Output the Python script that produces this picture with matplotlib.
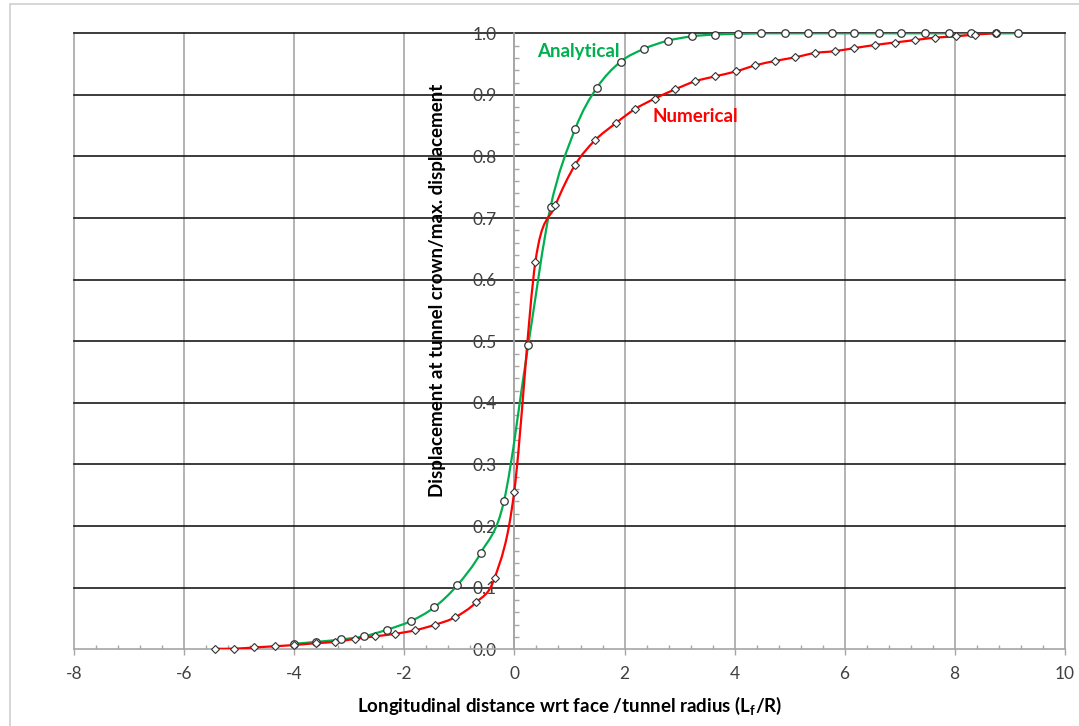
import matplotlib
matplotlib.use("Agg")
import matplotlib.pyplot as plt
import numpy as np
from matplotlib.path import Path
from matplotlib.patches import PathPatch, Rectangle
from matplotlib.ticker import MultipleLocator

plt.rcParams['font.family'] = ['Lato', 'DejaVu Sans']

# analytical solution (circles)
ana_x = [-4.0, -3.6, -3.15, -2.74, -2.31, -1.88, -1.46, -1.04, -0.61, -0.19,
         0.25, 0.655, 1.10, 1.50, 1.93, 2.36, 2.79, 3.22, 3.64, 4.06,
         4.49, 4.92, 5.34, 5.77, 6.18, 6.62, 7.03, 7.47, 7.89, 8.29, 8.75, 9.16]
ana_y = [0.009, 0.012, 0.016, 0.021, 0.032, 0.046, 0.068, 0.104, 0.157, 0.241,
         0.494, 0.718, 0.844, 0.912, 0.954, 0.975, 0.988, 0.995, 0.998, 0.999,
         1.0, 1.0, 1.0, 1.0, 1.0, 1.0, 1.0, 1.0, 1.0, 1.0, 1.0, 1.0]

# numerical results (diamonds)
num_x = [-5.44, -5.09, -4.73, -4.35, -4.0, -3.6, -3.27, -2.9, -2.54, -2.18,
         -1.8, -1.44, -1.08, -0.70, -0.36, -0.006, 0.38, 0.745, 1.10, 1.46,
         1.84, 2.19, 2.55, 2.92, 3.28, 3.64, 4.02, 4.38, 4.73, 5.10,
         5.46, 5.82, 6.18, 6.55, 6.91, 7.28, 7.65, 8.02, 8.37, 8.75]
num_y = [0.001, 0.001, 0.003, 0.005, 0.007, 0.010, 0.012, 0.017, 0.021, 0.025,
         0.031, 0.040, 0.052, 0.076, 0.116, 0.255, 0.629, 0.721, 0.786, 0.826,
         0.854, 0.877, 0.894, 0.909, 0.922, 0.930, 0.938, 0.948, 0.955, 0.961,
         0.968, 0.971, 0.976, 0.981, 0.985, 0.989, 0.993, 0.995, 0.998, 1.0]

GREEN = '#00B050'
RED = '#FF0000'


def smooth_path(xs, ys):
    # excel-like smoothed line: cubic bezier through the points
    p = np.column_stack([xs, ys])
    n = len(p)
    verts = [p[0]]
    codes = [Path.MOVETO]
    for i in range(n - 1):
        p0 = p[i - 1] if i > 0 else p[i]
        p3 = p[i + 2] if i + 2 < n else p[i + 1]
        c1 = p[i] + (p[i + 1] - p0) / 6.0
        c2 = p[i + 1] - (p3 - p[i]) / 6.0
        verts += [c1, c2, p[i + 1]]
        codes += [Path.CURVE4] * 3
    return Path(verts, codes)


fig = plt.figure(figsize=(10.79, 7.26), dpi=100)
W, H = 1079, 726
ax = fig.add_axes([74.4 / W, 1 - 649.3 / H, (1064.6 - 74.4) / W, (649.3 - 33.3) / H])

# outer chart border
fig.patches.append(Rectangle((10 / W, -0.1), 1.2, 1.1 - 4 / H, transform=fig.transFigure,
                             fill=False, edgecolor='#D0D0D0', lw=1.2))

ax.set_xlim(-8, 10)
ax.set_ylim(0, 1)
ax.xaxis.set_major_locator(MultipleLocator(2))
ax.xaxis.set_minor_locator(MultipleLocator(0.4))
ax.yaxis.set_major_locator(MultipleLocator(0.1))
ax.yaxis.set_minor_locator(MultipleLocator(0.02))

# grid
for v in np.arange(-8, 10.1, 2):
    ax.axvline(v, color='#A6A6A6', lw=1.2, zorder=0, clip_on=False)
for h in np.arange(0.1, 1.01, 0.1):
    ax.axhline(h, color='#1A1A1A', lw=1.2, zorder=0, clip_on=False)

for s in ['top', 'right']:
    ax.spines[s].set_visible(False)
ax.spines['left'].set_position(('data', 0))
ax.spines['left'].set_color('#A6A6A6')
ax.spines['bottom'].set_color('#A6A6A6')
ax.spines['left'].set_linewidth(1.2)
ax.spines['bottom'].set_linewidth(1.2)

ax.tick_params(axis='x', which='major', direction='out', length=4, width=1, color='#A6A6A6',
               pad=8, labelsize=12.5, labelcolor='#404040')
ax.tick_params(axis='x', which='minor', direction='in', length=3, width=1, color='#A6A6A6')
ax.tick_params(axis='y', which='major', direction='in', length=0, pad=13,
               labelsize=12.5, labelcolor='#404040')
ax.tick_params(axis='y', which='minor', direction='in', length=3.5, width=1, color='#A6A6A6')
ax.yaxis.set_major_formatter(matplotlib.ticker.FormatStrFormatter('%.1f'))
ax.xaxis.set_major_formatter(matplotlib.ticker.FuncFormatter(lambda v, p: '%d' % v))

# curves
ax.add_patch(PathPatch(smooth_path(ana_x, ana_y), fill=False, edgecolor=GREEN, lw=1.6, zorder=3))
ax.add_patch(PathPatch(smooth_path(num_x, num_y), fill=False, edgecolor=RED, lw=1.6, zorder=4))
ax.plot(ana_x, ana_y, 'o', ms=5.4, mfc='white', mec='#333333', mew=0.9, zorder=5, clip_on=False)
ax.plot(num_x, num_y, 'D', ms=3.6, mfc='white', mec='#333333', mew=0.8, zorder=6, clip_on=False)

ax.text(1.155, 0.971, 'Analytical', color=GREEN, fontsize=13.5, fontweight='bold',
        ha='center', va='center')
ax.text(3.29, 0.865, 'Numerical', color=RED, fontsize=13.5, fontweight='bold',
        ha='center', va='center')

ax.set_xlabel('Longitudinal distance wrt face /tunnel radius (L$_\\mathregular{f}$/R)',
              fontsize=13.5, fontweight='bold', labelpad=9)
fig.text(437 / W, 1 - 290 / H, 'Displacement at tunnel crown/max. displacement',
         rotation=90, fontsize=13.5, fontweight='bold', ha='center', va='center')

fig.savefig('out.png', dpi=100)
